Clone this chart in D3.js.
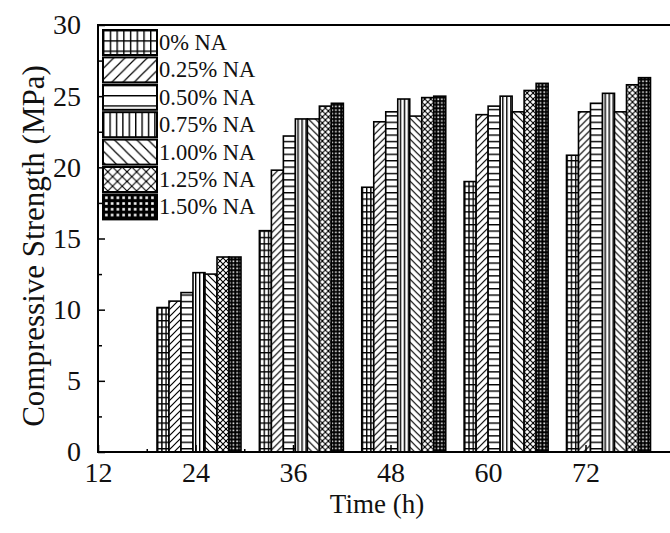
<!DOCTYPE html>
<html>
<head>
<meta charset="utf-8">
<script src="https://cdn.jsdelivr.net/npm/d3@7/dist/d3.min.js"></script>
<style>
body { margin: 0; background: #fff; }
text { font-family: "Liberation Serif", "Times New Roman", serif; fill: #111; }
</style>
</head>
<body>
<div id="chart"></div>
<script>
// curing time groups (h)
var times = [24, 36, 48, 60, 72];
var seriesNames = ["0% NA", "0.25% NA", "0.50% NA", "0.75% NA", "1.00% NA", "1.25% NA", "1.50% NA"];
// compressive strength (MPa), one array per NA dosage
var na000 = [10.15, 15.55, 18.6, 19.0, 20.85];
var na025 = [10.6, 19.8, 23.2, 23.7, 23.9];
var na050 = [11.2, 22.2, 23.9, 24.3, 24.5];
var na075 = [12.6, 23.4, 24.8, 25.0, 25.2];
var na100 = [12.5, 23.4, 23.6, 23.9, 23.9];
var na125 = [13.7, 24.3, 24.9, 25.4, 25.8];
var na150 = [13.7, 24.5, 25.0, 25.9, 26.3];
var xTicks = [12, 24, 36, 48, 60, 72];
var yTicks = [0, 5, 10, 15, 20, 25, 30];

var seriesValues = [na000, na025, na050, na075, na100, na125, na150];
var patternKinds = ["grid", "slash", "horiz", "vert", "back", "cross", "dense"];

var width = 670, height = 533;
var svg = d3.select("#chart").append("svg")
	.attr("width", width).attr("height", height);
var defs = svg.append("defs");

// axis scales (labels) and the bar placement scale
var x = d3.scaleLinear().domain([12, 84]).range([98, 683]);
var y = d3.scaleLinear().domain([0, 30]).range([452, 25]);
var xGroup = d3.scaleLinear().domain([24, 72]).range([199, 608.5]);
var xInner = d3.scaleBand().domain(d3.range(7)).range([-42, 42]);

function makePattern(id, kind, k) {
	var p, w, h;
	if (kind === "grid") {
		w = 4.2 * k; h = 6.4 * k;
		p = defs.append("pattern").attr("id", id).attr("patternUnits", "userSpaceOnUse")
			.attr("width", w).attr("height", h);
		p.append("rect").attr("width", w).attr("height", h).attr("fill", "#fff");
		p.append("path").attr("d", "M0.7,0V" + h + "M0," + 0.7 + "H" + w)
			.attr("stroke", "#000").attr("stroke-width", 1.4);
	} else if (kind === "horiz") {
		w = 6; h = 6.4 * k;
		p = defs.append("pattern").attr("id", id).attr("patternUnits", "userSpaceOnUse")
			.attr("width", w).attr("height", h);
		p.append("rect").attr("width", w).attr("height", h).attr("fill", "#fff");
		p.append("path").attr("d", "M0,0.7H" + w).attr("stroke", "#000").attr("stroke-width", 1.4);
	} else if (kind === "vert") {
		w = 4 * k; h = 6;
		p = defs.append("pattern").attr("id", id).attr("patternUnits", "userSpaceOnUse")
			.attr("width", w).attr("height", h);
		p.append("rect").attr("width", w).attr("height", h).attr("fill", "#fff");
		p.append("path").attr("d", "M0.7,0V" + h).attr("stroke", "#000").attr("stroke-width", 1.4);
	} else if (kind === "slash" || kind === "back") {
		w = 7 * k; h = 7 * k;
		p = defs.append("pattern").attr("id", id).attr("patternUnits", "userSpaceOnUse")
			.attr("width", w).attr("height", h);
		p.append("rect").attr("width", w).attr("height", h).attr("fill", "#fff");
		var d = kind === "slash"
			? "M-1," + (h + 1) + "L" + (w + 1) + ",-1M" + (w - 1) + "," + (h + 1) + "L" + (w + 1) + "," + (h - 1) + "M-1,1L1,-1"
			: "M-1,-1L" + (w + 1) + "," + (h + 1) + "M-1," + (h - 1) + "L1," + (h + 1) + "M" + (w - 1) + ",-1L" + (w + 1) + ",1";
		p.append("path").attr("d", d).attr("stroke", "#000").attr("stroke-width", 1.2);
	} else if (kind === "cross") {
		w = 6 * k; h = 6 * k;
		p = defs.append("pattern").attr("id", id).attr("patternUnits", "userSpaceOnUse")
			.attr("width", w).attr("height", h);
		p.append("rect").attr("width", w).attr("height", h).attr("fill", "#fff");
		p.append("path").attr("d", "M0,0L" + w + "," + h + "M0," + h + "L" + w + ",0")
			.attr("stroke", "#000").attr("stroke-width", 1.1);
		p.append("rect").attr("x", w / 2 - 1).attr("y", h / 2 - 1).attr("width", 2).attr("height", 2).attr("fill", "#000");
	} else {
		w = 3.6 * k; h = 3.6 * k;
		p = defs.append("pattern").attr("id", id).attr("patternUnits", "userSpaceOnUse")
			.attr("width", w).attr("height", h);
		p.append("rect").attr("width", w).attr("height", h).attr("fill", "#000");
		p.append("rect").attr("x", 1.3 * k).attr("y", 1.3 * k).attr("width", 1.6 * k).attr("height", 1.6 * k).attr("fill", "#fff");
	}
}

patternKinds.forEach(function(kd, i) {
	makePattern("bar-" + i, kd, 1);
	makePattern("leg-" + i, kd, 1.6);
});

// bars
var groups = svg.append("g").attr("class", "bars")
	.selectAll("g").data(times).enter().append("g")
	.attr("transform", function(t) { return "translate(" + xGroup(t) + ",0)"; });

groups.selectAll("rect")
	.data(function(t, ti) {
		return seriesValues.map(function(vals, si) { return { s: si, v: vals[ti] }; });
	})
	.enter().append("rect")
	.attr("x", function(d) { return xInner(d.s); })
	.attr("width", xInner.bandwidth())
	.attr("y", function(d) { return y(d.v); })
	.attr("height", function(d) { return y(0) - y(d.v); })
	.attr("fill", function(d) { return "url(#bar-" + d.s + ")"; })
	.attr("stroke", "#000").attr("stroke-width", 1.6);

// axes
var yAxis = d3.axisLeft(y).tickValues(yTicks).tickSizeInner(-7).tickSizeOuter(0).tickPadding(17)
	.tickFormat(d3.format("d"));
var gy = svg.append("g").attr("transform", "translate(" + x(12) + ",0)").call(yAxis);
gy.select(".domain").remove();
gy.selectAll("line").attr("stroke", "#000").attr("stroke-width", 1.5);
gy.selectAll("text").attr("font-size", 28).style("font-family", "Liberation Serif");

var yMinor = d3.axisLeft(y).tickValues(d3.range(2.5, 30, 5)).tickSizeInner(-4).tickSizeOuter(0).tickFormat("");
var gym = svg.append("g").attr("transform", "translate(" + x(12) + ",0)").call(yMinor);
gym.select(".domain").remove();
gym.selectAll("line").attr("stroke", "#000").attr("stroke-width", 1.5);

var xAxis = d3.axisBottom(x).tickValues(xTicks).tickSizeInner(-7).tickSizeOuter(0).tickPadding(10)
	.tickFormat(d3.format("d"));
var gx = svg.append("g").attr("transform", "translate(0," + y(0) + ")").call(xAxis);
gx.select(".domain").remove();
gx.selectAll("line").attr("stroke", "#000").attr("stroke-width", 1.5);
gx.selectAll("text").attr("font-size", 28).style("font-family", "Liberation Serif");

var xMinor = d3.axisBottom(x).tickValues(d3.range(18, 84, 12)).tickSizeInner(-3).tickSizeOuter(0).tickFormat("");
var gxm = svg.append("g").attr("transform", "translate(0," + y(0) + ")").call(xMinor);
gxm.select(".domain").remove();
gxm.selectAll("line").attr("stroke", "#000").attr("stroke-width", 1.5);

// frame
svg.append("rect")
	.attr("x", x(12)).attr("y", y(30))
	.attr("width", x(84) - x(12)).attr("height", y(0) - y(30))
	.attr("fill", "none").attr("stroke", "#000").attr("stroke-width", 2);

// axis titles
svg.append("text")
	.attr("transform", "translate(44," + 246 + ") rotate(-90)")
	.attr("text-anchor", "middle").attr("font-size", 31)
	.text("Compressive Strength (MPa)");
svg.append("text")
	.attr("x", 377).attr("y", 513)
	.attr("text-anchor", "middle").attr("font-size", 27)
	.text("Time (h)");

// legend
var legend = svg.append("g").attr("class", "legend")
	.selectAll("g").data(seriesNames).enter().append("g")
	.attr("transform", function(d, i) { return "translate(103," + (30 + i * 27.4) + ")"; });
legend.append("rect")
	.attr("width", 54).attr("height", 25)
	.attr("fill", function(d, i) { return "url(#leg-" + i + ")"; })
	.attr("stroke", "#000").attr("stroke-width", 2);
legend.append("text")
	.attr("x", 56).attr("y", 20)
	.attr("font-size", 22.5)
	.text(function(d) { return d; });
</script>
</body>
</html>
